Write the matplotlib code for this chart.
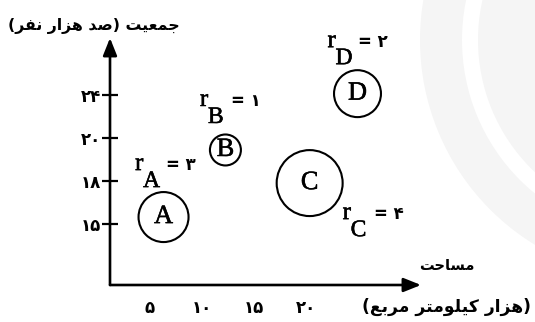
import matplotlib
matplotlib.use("Agg")
import matplotlib.pyplot as plt
from matplotlib.patches import Circle, Wedge
from matplotlib.transforms import IdentityTransform
import matplotlib.patheffects as pe

# ---------------- data ----------------
names = ["A", "B", "C", "D"]
area = [6.35, 12.3, 20.4, 25.0]          # x position (thousand km^2)
pop_pos = [0.15, 1.71, 0.94, 3.02]        # y position on the category-spaced population axis
radius_label = [3, 1, 4, 2]
bubble_diam_pt = [36.0, 22.3, 47.5, 33.8]  # drawn circle diameters
xticks = [5, 10, 15, 20]
ytick_values = [15, 18, 20, 24]

ylabel_text = "جمعیت (صد هزار نفر)"
xlabel_text = "مساحت"
xunit_text = "(هزار کیلومتر مربع)"

# ---------------- Persian helpers ----------------
FA_DIGITS = str.maketrans("0123456789", "۰۱۲۳۴۵۶۷۸۹")


def fa_num(v):
    return str(v).translate(FA_DIGITS)


# (isolated, final, initial, medial)
FORMS = {
    "ا": ("\uFE8D", "\uFE8E", None, None),
    "ب": ("\uFE8F", "\uFE90", "\uFE91", "\uFE92"),
    "ت": ("\uFE95", "\uFE96", "\uFE97", "\uFE98"),
    "ج": ("\uFE9D", "\uFE9E", "\uFE9F", "\uFEA0"),
    "ح": ("\uFEA1", "\uFEA2", "\uFEA3", "\uFEA4"),
    "د": ("\uFEA9", "\uFEAA", None, None),
    "ر": ("\uFEAD", "\uFEAE", None, None),
    "ز": ("\uFEAF", "\uFEB0", None, None),
    "س": ("\uFEB1", "\uFEB2", "\uFEB3", "\uFEB4"),
    "ص": ("\uFEB9", "\uFEBA", "\uFEBB", "\uFEBC"),
    "ع": ("\uFEC9", "\uFECA", "\uFECB", "\uFECC"),
    "ف": ("\uFED1", "\uFED2", "\uFED3", "\uFED4"),
    "ل": ("\uFEDD", "\uFEDE", "\uFEDF", "\uFEE0"),
    "م": ("\uFEE1", "\uFEE2", "\uFEE3", "\uFEE4"),
    "ن": ("\uFEE5", "\uFEE6", "\uFEE7", "\uFEE8"),
    "ه": ("\uFEE9", "\uFEEA", "\uFEEB", "\uFEEC"),
    "و": ("\uFEED", "\uFEEE", None, None),
    "ی": ("\uFBFC", "\uFBFD", "\uFBFE", "\uFBFF"),
    "ک": ("\uFB8E", "\uFB8F", "\uFB90", "\uFB91"),
}


def dual(c):
    return c in FORMS and FORMS[c][2] is not None


def joins(c):
    return c in FORMS


def shape_fa(text):
    out = []
    n = len(text)
    for i, c in enumerate(text):
        if c not in FORMS:
            out.append(c)
            continue
        prev_c = text[i - 1] if i > 0 else ""
        next_c = text[i + 1] if i < n - 1 else ""
        cp = dual(prev_c)
        cn = dual(c) and joins(next_c)
        iso, fin, ini, med = FORMS[c]
        if cp and cn:
            out.append(med)
        elif cp:
            out.append(fin)
        elif cn:
            out.append(ini)
        else:
            out.append(iso)
    vis = "".join(reversed(out))
    return vis.translate(str.maketrans("()", ")("))


# ---------------- figure ----------------
W, H = 535, 322
fig = plt.figure(figsize=(W / 100, H / 100), dpi=100)
fig.patch.set_facecolor("white")

# faint watermark arcs on the right
wm = Circle((660, H - 40), 240, facecolor="#f5f5f5", edgecolor="none",
            transform=IdentityTransform(), zorder=-5)
fig.add_artist(wm)
wm2 = Wedge((660, H - 40), 198, 0, 360, width=16, facecolor="white",
            edgecolor="none", transform=IdentityTransform(), zorder=-4)
fig.add_artist(wm2)

ax = fig.add_axes([110 / W, (H - 285) / H, 311 / W, 247 / H])
ax.set_facecolor("none")
ax.set_xlim(1.202, 31.106)
ax.set_ylim(-1.430, 4.314)
for s in ax.spines.values():
    s.set_visible(False)

AXLW = 1.9
arrow_kw = dict(arrowstyle="-|>,head_length=0.75,head_width=0.3", lw=AXLW,
                color="black", shrinkA=0, shrinkB=0, mutation_scale=14)
ax.annotate("", xy=(0, 1), xytext=(0, 0), xycoords="axes fraction",
            arrowprops=arrow_kw)
ax.annotate("", xy=(1, 0), xytext=(0, 0), xycoords="axes fraction",
            arrowprops=arrow_kw)

DIG_FONT = dict(family="DejaVu Sans", weight="bold")

ax.set_yticks(range(len(ytick_values)))
ax.set_yticklabels([fa_num(v) for v in ytick_values], fontsize=12, **DIG_FONT)
ax.tick_params(axis="y", direction="inout", length=11, width=1.6, pad=1)
ax.set_xticks(xticks)
ax.set_xticklabels([fa_num(v) for v in xticks], fontsize=12, **DIG_FONT)
ax.tick_params(axis="x", length=0, pad=10)

SERIF = "Liberation Serif"
HEAVY = [pe.withStroke(linewidth=0.4, foreground="black")]
ax.scatter(area, pop_pos, s=[d ** 2 for d in bubble_diam_pt],
           facecolors="none", edgecolors="black", linewidths=1.5, zorder=3,
           clip_on=False)
for x, y, nm in zip(area, pop_pos, names):
    ax.text(x, y, nm, ha="center", va="center", family=SERIF, fontsize=19,
            zorder=4, path_effects=HEAVY)

# label offsets (pixels) of "r" baseline-left relative to bubble centre
label_off = {"A": (-28.5, 47), "B": (-25.5, 44), "C": (33, -36), "D": (-30, 46.5)}
for x, y, nm, rv in zip(area, pop_pos, names, radius_label):
    dx, dy = label_off[nm]
    ax.annotate("r", (x, y), xytext=(dx, dy), textcoords="offset pixels",
                family=SERIF, fontsize=18, va="baseline", ha="left",
                annotation_clip=False, path_effects=HEAVY)
    ax.annotate(nm, (x, y), xytext=(dx + 8, dy - 17), textcoords="offset pixels",
                family=SERIF, fontsize=17, va="baseline", ha="left",
                annotation_clip=False, path_effects=HEAVY)
    ax.annotate("= " + fa_num(rv), (x, y), xytext=(dx + 31, dy),
                textcoords="offset pixels", fontsize=12, va="baseline",
                ha="left", annotation_clip=False, **DIG_FONT)

TXT_FONT = dict(family="DejaVu Sans", weight="bold")
fig.text(94 / W, 1 - 26 / H, shape_fa(ylabel_text), ha="center", va="center",
         fontsize=11.3, **TXT_FONT)
fig.text(447 / W, 1 - 266 / H, shape_fa(xlabel_text), ha="center", va="center",
         fontsize=10.5, **TXT_FONT)
fig.text(447 / W, 1 - 307 / H, shape_fa(xunit_text), ha="center", va="center",
         fontsize=12.3, **TXT_FONT)

fig.savefig("out.png", dpi=100, facecolor="white")
